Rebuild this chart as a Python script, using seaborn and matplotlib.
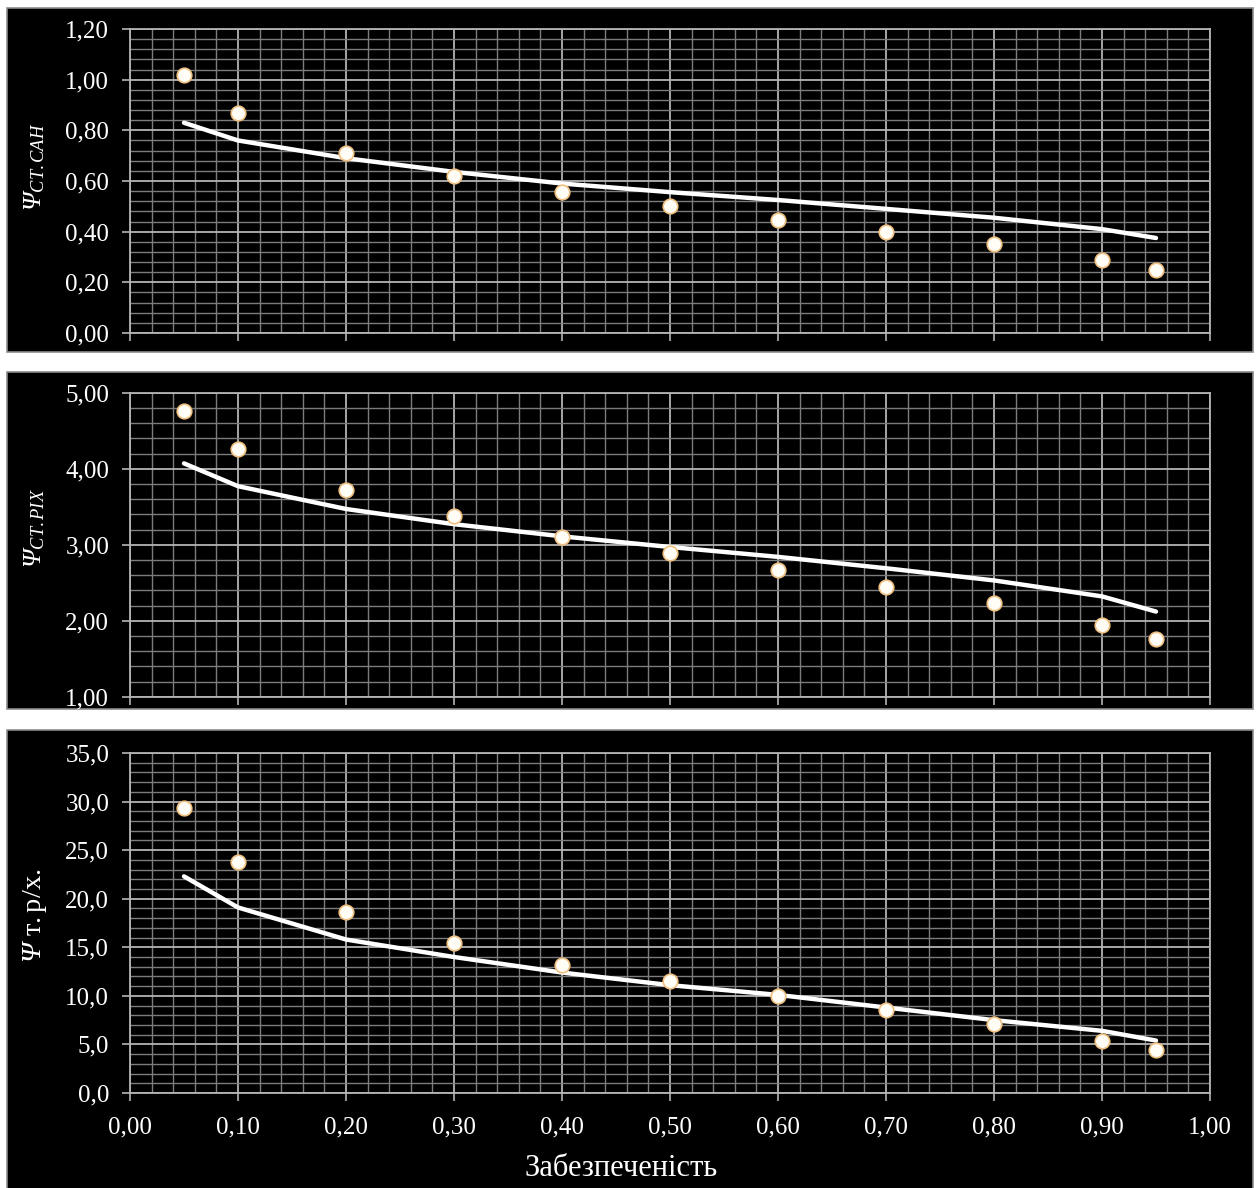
import matplotlib
matplotlib.use("Agg")
import matplotlib.pyplot as plt
from matplotlib.patches import Rectangle
from matplotlib.ticker import MultipleLocator, FuncFormatter
import pandas as pd
import seaborn as sns

# data
prob = [0.05, 0.10, 0.20, 0.30, 0.40, 0.50, 0.60, 0.70, 0.80, 0.90, 0.95]

san_obs = [1.02, 0.87, 0.71, 0.62, 0.555, 0.50, 0.447, 0.40, 0.35, 0.29, 0.25]
san_fit = [0.83, 0.76, 0.69, 0.636, 0.59, 0.556, 0.525, 0.49, 0.455, 0.41, 0.375]

rih_obs = [4.76, 4.26, 3.72, 3.38, 3.10, 2.89, 2.67, 2.44, 2.23, 1.95, 1.76]
rih_fit = [4.07, 3.77, 3.47, 3.27, 3.11, 2.97, 2.84, 2.69, 2.53, 2.32, 2.12]

trh_obs = [29.3, 23.8, 18.6, 15.4, 13.2, 11.5, 10.0, 8.5, 7.1, 5.4, 4.4]
trh_fit = [22.3, 19.1, 15.8, 14.0, 12.4, 11.1, 10.1, 8.8, 7.5, 6.4, 5.4]

x_label = "Забезпеченість"
# plain part is drawn italic, math part upright or italic as needed
y_labels = [r"Ψ$_{\mathit{СТ.САН}}$",
            r"Ψ$_{\mathit{СТ.РІХ}}$",
            r"Ψ $\mathrm{т.р/х.}$"]
y_label_sizes = [19, 19, 20.5]

sns.set_style("dark")
plt.rcParams["font.family"] = ["Liberation Serif", "DejaVu Serif"]
plt.rcParams["mathtext.fontset"] = "custom"
plt.rcParams["mathtext.rm"] = "Liberation Serif"
plt.rcParams["mathtext.it"] = "Liberation Serif:italic"

W, H = 1260, 1188
fig = plt.figure(figsize=(W / 100, H / 100), dpi=100, facecolor="white")


def px_box(x0, y0, x1, y1):
    return [x0 / W, 1 - y1 / H, (x1 - x0) / W, (y1 - y0) / H]


# black chart areas with thin grey border, kept behind the axes
for (y0, y1) in [(8, 352), (372, 709), (730, 1190)]:
    b = px_box(7, y0, 1253, y1)
    fig.patches.append(Rectangle((b[0], b[1]), b[2], b[3], transform=fig.transFigure,
                                 facecolor="black", edgecolor="#8c8c8c", lw=1.2, zorder=-5))

panels = [
    (san_obs, san_fit, (0, 1.2), 0.2, 0.04, "{:.2f}", (29, 333), 167),
    (rih_obs, rih_fit, (1, 5), 1.0, 0.2, "{:.2f}", (392.7, 696.7), 528),
    (trh_obs, trh_fit, (0, 35), 5.0, 1.0, "{:.1f}", (753, 1093), 916),
]

for i, (obs, fit, ylim, major, minor, fmt, (top, bot), lab_y) in enumerate(panels):
    ax = fig.add_axes(px_box(130, top, 1210, bot))
    ax.set_facecolor("black")
    df = pd.DataFrame({"p": prob, "obs": obs, "fit": fit})
    sns.lineplot(data=df, x="p", y="fit", ax=ax, color="white", lw=3.2, zorder=3)
    sns.scatterplot(data=df, x="p", y="obs", ax=ax, s=110, color="#fffdf5",
                    edgecolor="#f0c080", linewidth=1.2, zorder=4)

    ax.set_xlim(0, 1)
    ax.set_ylim(*ylim)
    ax.xaxis.set_major_locator(MultipleLocator(0.1))
    ax.xaxis.set_minor_locator(MultipleLocator(0.02))
    ax.yaxis.set_major_locator(MultipleLocator(major))
    ax.yaxis.set_minor_locator(MultipleLocator(minor))
    ax.grid(which="major", color="#b4b4b4", lw=1.3)
    ax.grid(which="minor", color="#7c7c7c", lw=1.0)
    ax.set_axisbelow(True)
    for s in ax.spines.values():
        s.set_visible(True)
        s.set_color("#b4b4b4")
        s.set_linewidth(1.3)

    ax.tick_params(which="major", direction="out", length=6, width=1.2,
                   color="#b4b4b4", labelcolor="white", labelsize=18, pad=9,
                   bottom=True, left=True)
    ax.tick_params(which="minor", length=0)
    ax.yaxis.set_major_formatter(FuncFormatter(lambda v, _, f=fmt: f.format(v).replace(".", ",")))
    if i < 2:
        ax.tick_params(axis="x", labelbottom=False)
    else:
        ax.xaxis.set_major_formatter(FuncFormatter(lambda v, _: f"{v:.2f}".replace(".", ",")))
        ax.tick_params(axis="x", pad=11)
    ax.set_xlabel("")
    ax.set_ylabel("")

    fig.text(35 / W, 1 - lab_y / H, y_labels[i], rotation=90, color="white",
             fontsize=y_label_sizes[i], fontstyle="italic", ha="center", va="center")

fig.text(621 / W, 1 - 1168 / H, x_label, color="white", fontsize=22,
         ha="center", va="center")

fig.savefig("out.png", dpi=100, facecolor="white")
